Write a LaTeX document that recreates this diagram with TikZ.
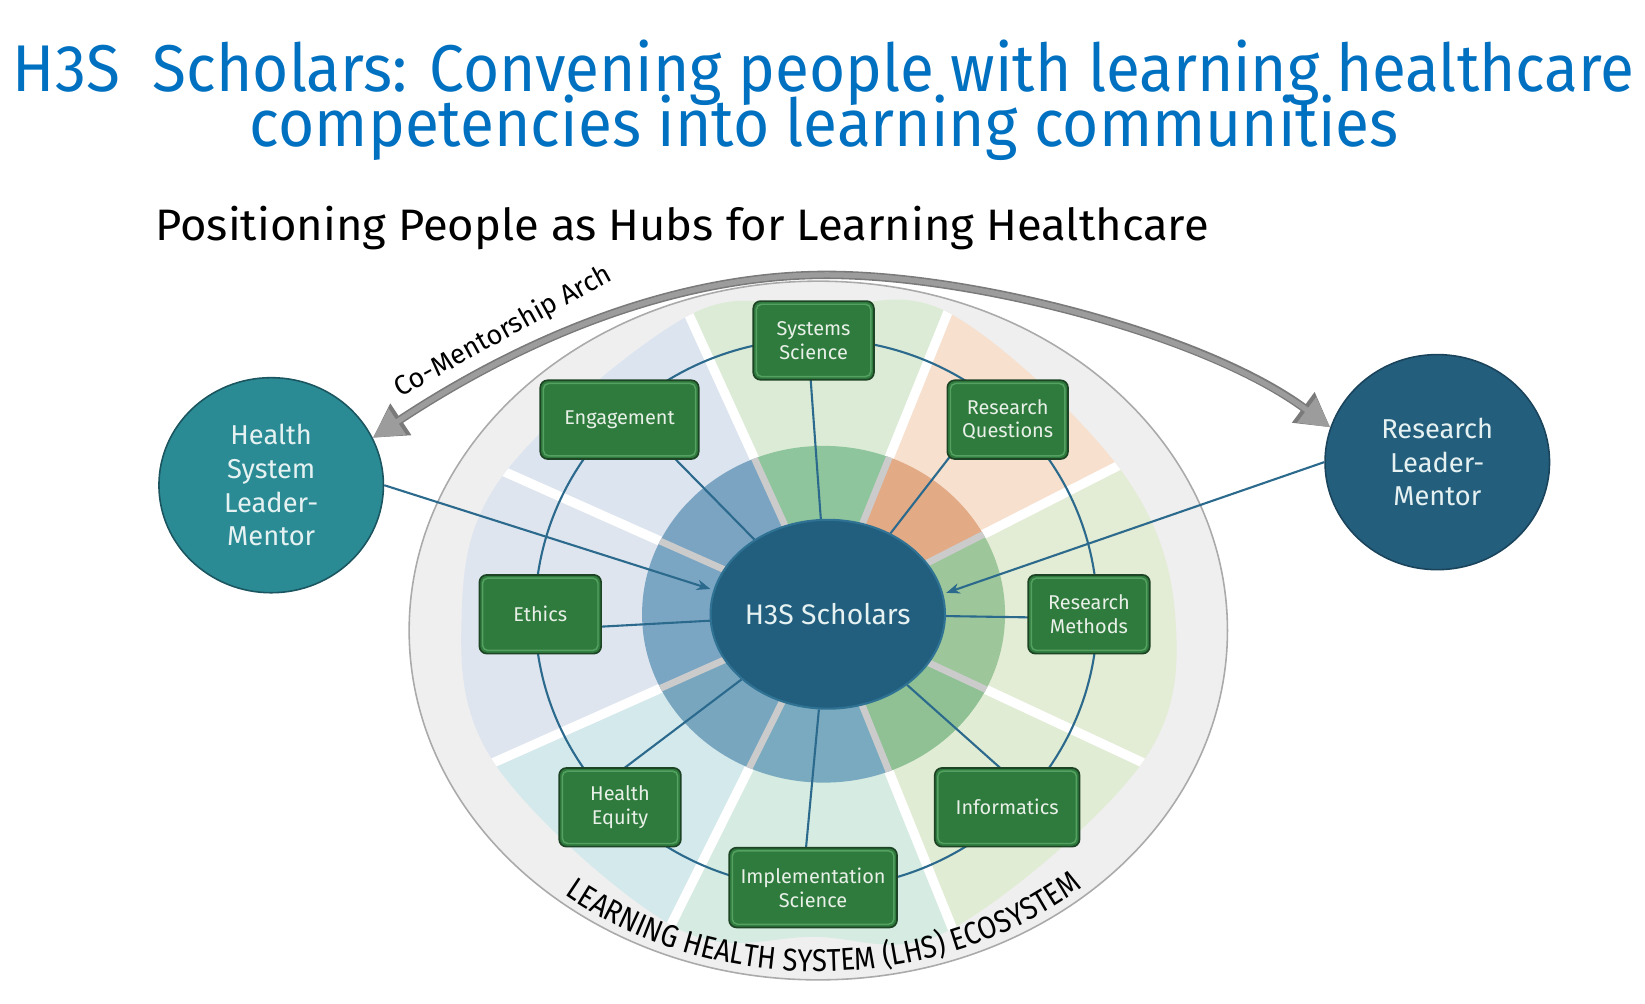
\documentclass[tikz,border=0pt]{standalone}
\usepackage{fontspec}
\setmainfont{Fira Sans}
\newfontfamily\ecofont[FakeStretch=0.87]{Fira Sans}
\usetikzlibrary{shapes.geometric,arrows.meta,calc,decorations.text}
\pgfdeclarelayer{bg}
\pgfdeclarelayer{conn}
\pgfsetlayers{bg,conn,main}
\definecolor{titleblue}{HTML}{0070C0}
\definecolor{ringfill}{HTML}{EFEFEF}
\definecolor{ringborder}{HTML}{AAAAAA}
\definecolor{secTop}{HTML}{DCEBD6}
\definecolor{secRQ}{HTML}{F7E0CE}
\definecolor{secRM}{HTML}{E3ECD4}
\definecolor{secInf}{HTML}{E1ECD4}
\definecolor{secImp}{HTML}{D6EBE1}
\definecolor{secHE}{HTML}{D4E9EC}
\definecolor{secEth}{HTML}{DEE5EF}
\definecolor{secEng}{HTML}{DCE4EF}
\definecolor{rTop}{HTML}{8EC59D}
\definecolor{rRQ}{HTML}{E3AA86}
\definecolor{rRM}{HTML}{9DC79A}
\definecolor{rInf}{HTML}{8FC195}
\definecolor{rImp}{HTML}{7AAABF}
\definecolor{rHE}{HTML}{78A6BF}
\definecolor{rEth}{HTML}{7BA6C3}
\definecolor{rEng}{HTML}{7AA4C2}
\definecolor{sepgrey}{HTML}{CBCBCB}
\definecolor{linkblue}{HTML}{2B6A8D}
\definecolor{boxfill}{HTML}{2F7B3D}
\definecolor{boxdark}{HTML}{1D4424}
\definecolor{boxlight}{HTML}{55A162}
\definecolor{boxtext}{HTML}{E8F0E8}
\definecolor{tealc}{HTML}{2A8B95}
\definecolor{tealdark}{HTML}{1B5560}
\definecolor{rlfill}{HTML}{245E7D}
\definecolor{rldark}{HTML}{1A445C}
\definecolor{h3sfill}{HTML}{225F7E}
\definecolor{h3srim}{HTML}{2F7293}
\definecolor{circtext}{HTML}{E6F2F2}
\definecolor{archgray}{HTML}{9C9C9C}
\definecolor{archdark}{HTML}{7A7A7A}
\newcommand\mywedge[3]{\fill[#3] (C) -- +({-(#1)}:1200) -- +({-((#1)+(#2))/2}:1300) -- +({-(#2)}:1200) -- cycle;}
\begin{document}
\begin{tikzpicture}[x=1pt,y=-1pt,
  box/.style={draw=boxdark, line width=1.6pt, fill=boxfill, rounded corners=7pt,
    align=center, text=boxtext, font=\fontsize{19}{22.5}\selectfont, inner sep=0pt,
    minimum height=75pt,
    path picture={\draw[boxlight, line width=1.4pt, rounded corners=5pt]
      ([shift={(3pt,-3pt)}]path picture bounding box.north west) rectangle
      ([shift={(-3pt,3pt)}]path picture bounding box.south east);}},
  mentor/.style={ellipse, inner sep=0pt, line width=1.5pt, text=circtext, align=center,
    font=\fontsize{26}{32}\selectfont, minimum width=214pt, minimum height=205pt},
  spoke/.style={draw=linkblue, line width=2pt},
  mentorarrow/.style={draw=linkblue, line width=2pt, -{Stealth[length=13pt,width=10pt]}, shorten >=3pt},
]
\useasboundingbox (0,0) rectangle (1568,957);
\begin{pgfonlayer}{bg}
\fill[white] (0,0) rectangle (1568,957);
\fill[ringfill, draw=ringborder, line width=1.5pt] (780,601) ellipse [x radius=390, y radius=333];
\coordinate (C) at (787,586);
\begin{scope}
\clip plot[smooth cycle, tension=0.6] coordinates {(780,294) (904,298) (1066,445) (1120,585) (1088,728) (906,886) (776,893) (644,884) (473,730) (440,588) (481,451) (658,300)};
\mywedge{68}{114.5}{secTop}
\mywedge{114.5}{156}{secEng}
\mywedge{156}{204}{secEth}
\mywedge{204}{243.5}{secHE}
\mywedge{243.5}{292}{secImp}
\mywedge{292}{335}{secInf}
\mywedge{-25}{27}{secRM}
\mywedge{27}{68}{secRQ}
\foreach \a in {27,68,114.5,156,204,243.5,292,335} \draw[white, line width=9pt] (C) -- +(-\a:1200);
\end{scope}
\begin{scope}
\clip (785,585.5) ellipse [x radius=173, y radius=160.5];
\mywedge{68}{114.5}{rTop}
\mywedge{114.5}{156}{rEng}
\mywedge{156}{204}{rEth}
\mywedge{204}{243.5}{rHE}
\mywedge{243.5}{292}{rImp}
\mywedge{292}{335}{rInf}
\mywedge{-25}{27}{rRM}
\mywedge{27}{68}{rRQ}
\foreach \a in {27,68,114.5,156,204,243.5,292,335} \draw[sepgrey, line width=6.5pt] (C) -- +(-\a:1200);
\end{scope}
\path[decorate, decoration={text along path, text align=center,
  text={|\ecofont\fontsize{30}{30}\selectfont|LEARNING HEALTH SYSTEM (LHS) ECOSYSTEM}}]
  ($(780,601)+({383*cos(-216)},{325*sin(-216)})$) arc[start angle=-216, end angle=-326, x radius=383, y radius=325];
\end{pgfonlayer}

% titles
\node[anchor=base west, inner sep=0pt, text=titleblue] (t1) at (12,87)
  {\resizebox{1546pt}{\height}{\fontsize{63}{63}\selectfont H3S~~Scholars: Convening people with learning healthcare}};
\node[anchor=base west, inner sep=0pt, text=titleblue] (t2) at (238,140)
  {\resizebox{1095pt}{\height}{\fontsize{63}{63}\selectfont competencies into learning communities}};
\node[anchor=base west, inner sep=0pt, text=black] (t3) at (148,229)
  {\resizebox{1004pt}{\height}{\fontsize{42}{42}\selectfont Positioning People as Hubs for Learning Healthcare}};

% hub
\node[ellipse, minimum width=201pt, minimum height=180pt, inner sep=0pt, fill=h3sfill, draw=h3srim,
  line width=2pt, text=circtext, font=\fontsize{27}{27}\selectfont] (h3s) at (789,585.5) {H3S Scholars};

% competency boxes
\node[box, minimum width=115pt] (sys) at (775.5,324.5) {Systems\\Science};
\node[box, minimum width=151pt] (eng) at (590.5,400) {Engagement};
\node[box, minimum width=115pt] (rq) at (960.5,400) {Research\\Questions};
\node[box, minimum width=116pt] (eth) at (515,585.5) {Ethics};
\node[box, minimum width=116pt] (rm) at (1038,585.5) {Research\\Methods};
\node[box, minimum width=116pt] (he) at (591,769.5) {Health\\Equity};
\node[box, minimum width=138pt] (inf) at (960,769.5) {Informatics};
\node[box, minimum width=160pt, minimum height=76pt] (imp) at (775,846) {Implementation\\Science};

% mentors
\node[mentor, fill=tealc, draw=tealdark] (hsl) at (258.5,462.5) {Health\\System\\Leader-\\Mentor};
\node[mentor, fill=rlfill, draw=rldark] (rl) at (1370,440.5) {Research\\Leader-\\Mentor};

\begin{pgfonlayer}{conn}
\draw[linkblue, line width=2pt] (778,585) ellipse [x radius=268, y radius=262];
\draw[spoke] (h3s) -- ($(sys.south)+(-3pt,4pt)$);
\draw[spoke] (h3s) -- ($(eng.south)+(50pt,4pt)$);
\draw[spoke] (h3s) -- ($(rq.south west)+(4pt,4pt)$);
\draw[spoke] (h3s) -- ($(eth.east)+(-4pt,-12pt)$);
\draw[spoke] (h3s) -- ($(rm.west)+(4pt,-3pt)$);
\draw[spoke] (h3s) -- ($(he.north)+(0pt,-4pt)$);
\draw[spoke] (h3s) -- ($(inf.north)+(-3pt,-4pt)$);
\draw[spoke] (h3s) -- ($(imp.north)+(-7pt,-4pt)$);
\draw[mentorarrow] (hsl.east) -- (h3s.168);
\draw[mentorarrow] (rl.west) -- (h3s.10);
\end{pgfonlayer}

% co-mentorship arch
\draw[archdark, line width=8pt, {Triangle[length=32pt,width=34pt]}-{Triangle[length=32pt,width=34pt]}]
  (hsl.25) .. controls (460,348) and (615,262) .. (788,262) .. controls (930,262) and (1150,320) .. (rl.162);
\draw[archgray, line width=5pt, {Triangle[length=28pt,width=29pt]}-{Triangle[length=28pt,width=29pt]}]
  (hsl.25) .. controls (460,348) and (615,262) .. (788,262) .. controls (930,262) and (1150,320) .. (rl.162);
\node[font=\fontsize{26}{26}\selectfont, rotate=29, inner sep=0pt] (archlbl) at (480,316) {Co-Mentorship Arch};
\end{tikzpicture}
\end{document}
